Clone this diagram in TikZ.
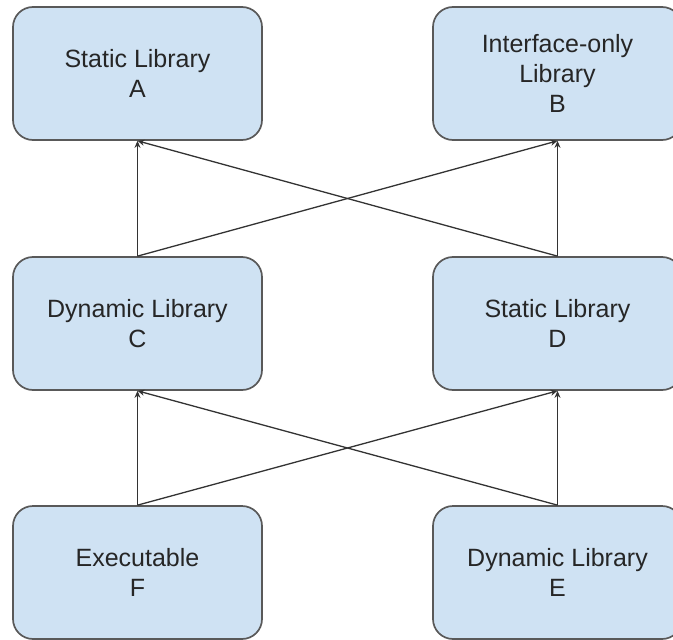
\documentclass[tikz,border=0pt]{standalone}
\usepackage{fontspec}
\setmainfont{Liberation Sans}
\usetikzlibrary{arrows.meta}
\definecolor{boxfill}{HTML}{CFE2F3}
\definecolor{boxline}{HTML}{595959}
\definecolor{arrowline}{HTML}{333333}
\begin{document}
\begin{tikzpicture}[x=1pt,y=-1pt,
  libbox/.style={draw=boxline, line width=1.7pt, fill=boxfill, rounded corners=20pt,
    minimum width=249pt, minimum height=133pt, inner sep=0pt, align=center,
    font=\fontsize{25}{30}\selectfont, text=black!85},
  dep/.style={draw=arrowline, line width=1.3pt, -{Stealth[length=7pt,width=6pt]}}]
\useasboundingbox (0,0) rectangle (673,640);
\node[libbox] (A) at (137.5,73.5) {Static Library\\A};
\node[libbox] (B) at (557.5,73.5) {Interface-only\\Library\\B};
\node[libbox] (C) at (137.5,323.5) {Dynamic Library\\C};
\node[libbox] (D) at (557.5,323.5) {Static Library\\D};
\node[libbox] (F) at (137.5,572.5) {Executable\\F};
\node[libbox] (E) at (557.5,572.5) {Dynamic Library\\E};
\draw[dep] (C.north) -- (A.south);
\draw[dep] (C.north) -- (B.south);
\draw[dep] (D.north) -- (A.south);
\draw[dep] (D.north) -- (B.south);
\draw[dep] (F.north) -- (C.south);
\draw[dep] (F.north) -- (D.south);
\draw[dep] (E.north) -- (C.south);
\draw[dep] (E.north) -- (D.south);
\end{tikzpicture}
\end{document}
